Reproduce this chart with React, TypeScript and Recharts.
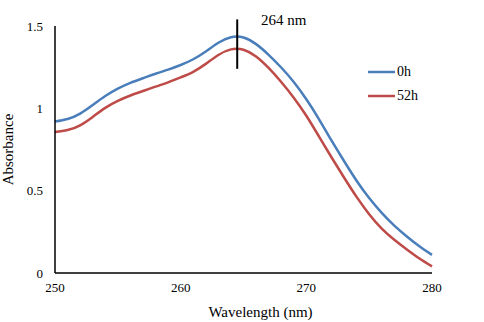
import { LineChart, Line, XAxis, YAxis, ReferenceLine } from "recharts";

const wavelengths = [
  250, 251, 252, 253, 254, 255, 256, 257, 258, 259, 260, 261, 262, 263, 264, 265,
  266, 267, 268, 269, 270, 271, 272, 273, 274, 275, 276, 277, 278, 279, 280,
];
const abs0h = [
  0.92, 0.935, 0.968, 1.02, 1.075, 1.12, 1.155, 1.183, 1.21, 1.235, 1.263, 1.298,
  1.345, 1.398, 1.432, 1.43, 1.39, 1.325, 1.248, 1.16, 1.055, 0.935, 0.805, 0.68, 0.56,
  0.455, 0.365, 0.288, 0.222, 0.162, 0.11,
];
const abs52h = [
  0.856, 0.868, 0.897, 0.948, 1.003, 1.045, 1.078, 1.105, 1.132, 1.158, 1.188, 1.222,
  1.27, 1.324, 1.358, 1.356, 1.315, 1.245, 1.16, 1.065, 0.955, 0.83, 0.703, 0.58, 0.462,
  0.357, 0.27, 0.202, 0.143, 0.088, 0.04,
];
const seriesNames = ["0h", "52h"];
const seriesColors = ["#4a7ebb", "#be4b48"];
const xTicks = [250, 260, 270, 280];
const yTicks = [0, 0.5, 1, 1.5];
const peakNm = 264.5;
const peakLabel = "264 nm";

const data = wavelengths.map((w, i) => ({ w, h0: abs0h[i], h52: abs52h[i] }));

const font = "'Liberation Serif', 'Times New Roman', Times, serif";

export default function App() {
  return (
    <div
      style={{
        position: "absolute",
        left: 0,
        top: 0,
        width: 484,
        height: 322,
        background: "#fff",
        fontFamily: font,
      }}
    >
      <LineChart
        width={484}
        height={322}
        data={data}
        margin={{ top: 26, right: 52, bottom: 0, left: 0 }}
        style={{ fontFamily: font }}
      >
        <XAxis
          dataKey="w"
          type="number"
          domain={[250, 280]}
          ticks={xTicks}
          tickLine={false}
          tickSize={8}
          tickMargin={2}
          height={49}
          axisLine={{ stroke: "#000", strokeWidth: 1.5 }}
          tick={{ fill: "#000", fontSize: 13, fontFamily: font }}
          label={{
            value: "Wavelength (nm)",
            position: "insideBottom",
            offset: 5,
            dx: 17,
            fill: "#000",
            fontSize: 15,
            fontFamily: font,
          }}
        />
        <YAxis
          type="number"
          domain={[0, 1.5]}
          ticks={yTicks}
          width={55}
          tickLine={false}
          tickSize={10}
          tickMargin={2}
          axisLine={{ stroke: "#000", strokeWidth: 1.5 }}
          tick={{ fill: "#000", fontSize: 13, fontFamily: font }}
          label={{
            value: "Absorbance",
            angle: -90,
            position: "insideLeft",
            offset: 8,
            fill: "#000",
            fontSize: 15,
            fontFamily: font,
            style: { textAnchor: "middle" },
          }}
        />
        <Line
          name={seriesNames[0]}
          dataKey="h0"
          stroke={seriesColors[0]}
          strokeWidth={2.5}
          dot={false}
          type="natural"
          isAnimationActive={false}
        />
        <Line
          name={seriesNames[1]}
          dataKey="h52"
          stroke={seriesColors[1]}
          strokeWidth={2.5}
          dot={false}
          type="natural"
          isAnimationActive={false}
        />
        <ReferenceLine
          segment={[
            { x: peakNm, y: 1.24 },
            { x: peakNm, y: 1.54 },
          ]}
          stroke="#000"
          strokeWidth={2}
          ifOverflow="visible"
        />
        <ReferenceLine
          segment={[
            { x: 268.2, y: 1.54 },
            { x: 268.2, y: 1.54 },
          ]}
          stroke="none"
          ifOverflow="visible"
          label={{
            value: peakLabel,
            position: "center",
            fill: "#000",
            fontSize: 15,
            fontFamily: font,
          }}
        />
      </LineChart>
      <div
        style={{
          position: "absolute",
          left: 368,
          top: 60,
          fontSize: 14,
          color: "#000",
        }}
      >
        {seriesNames.map((n, i) => (
          <div key={n} style={{ display: "flex", alignItems: "center", height: 24 }}>
            <svg width={27} height={4} style={{ marginRight: 2 }}>
              <line x1={0} y1={2} x2={27} y2={2} stroke={seriesColors[i]} strokeWidth={2.5} />
            </svg>
            <span>{n}</span>
          </div>
        ))}
      </div>
    </div>
  );
}
